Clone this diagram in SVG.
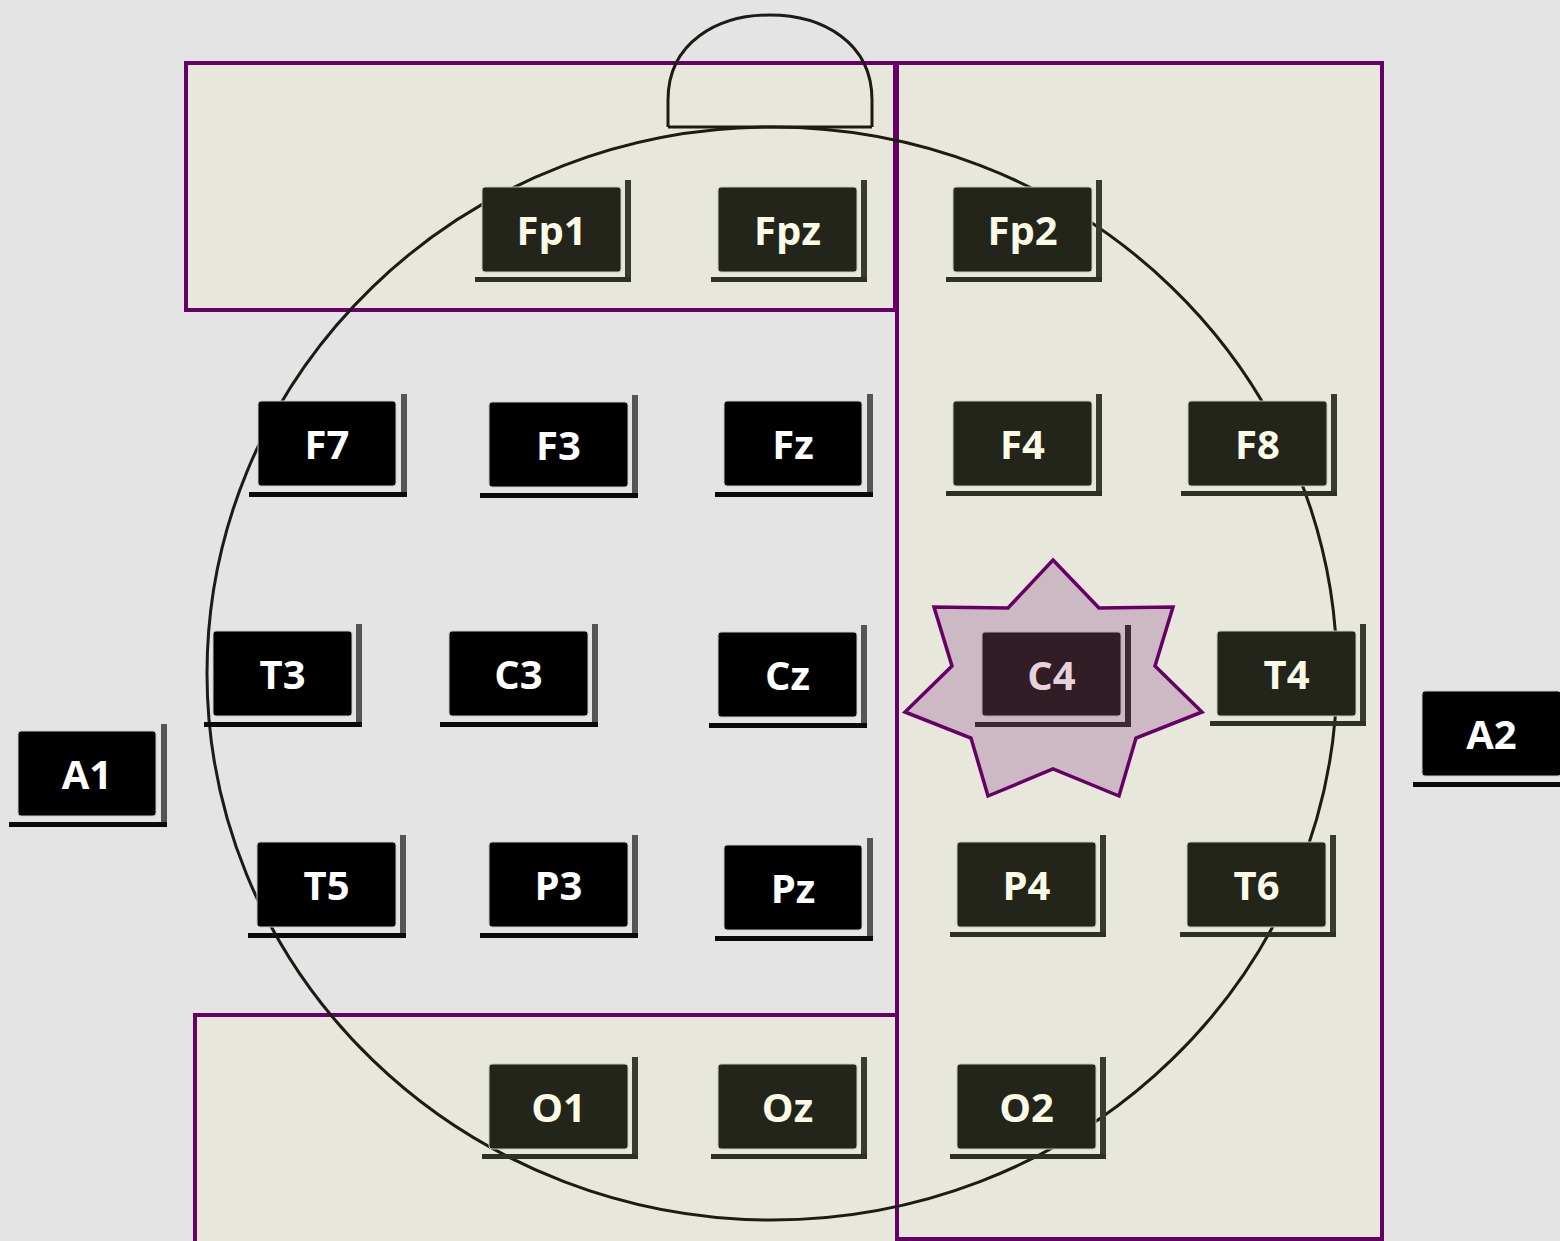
<svg xmlns="http://www.w3.org/2000/svg" width="1560" height="1241" viewBox="0 0 1560 1241">
<style>
.region{fill:#e7e7dc;stroke:#660066;stroke-width:4}
.head{fill:none;stroke:#1c1c14;stroke-width:3}
.box-d{fill:#23241a;stroke:#c9c9bb;stroke-width:1}
.box-k{fill:#000;stroke:#c8c8c8;stroke-width:1}
.box-c{fill:#321c26;stroke:#b9a4ae;stroke-width:1}
.sh-d{fill:#2e2f25}
.sh-dv{fill:#3a3b30}
.sh-k{fill:#0a0a0a}
.sh-kv{fill:#555}
.sh-c{fill:#3e2834}
.lbl{font-family:"Open Sans","Liberation Sans",sans-serif;font-weight:bold;font-size:40px;text-anchor:middle}
.t-d{fill:#fafae6}
.t-k{fill:#fff}
.t-c{fill:#e6d2dc}
</style>
<defs>
<g id="shd-d"><rect class="sh-dv" x="143" y="-7" width="6" height="102"/><rect class="sh-d" x="-7" y="90" width="156" height="5"/></g>
<g id="shd-k"><rect class="sh-kv" x="143" y="-7" width="6" height="102"/><rect class="sh-k" x="-9" y="91" width="158" height="5"/></g>
<g id="shd-c"><rect class="sh-c" x="143" y="-7" width="6" height="102"/><rect class="sh-c" x="-7" y="90" width="156" height="5"/></g>
</defs>
<rect x="0" y="0" width="1560" height="1241" fill="#e4e4e4"/>
<g id="regions">
<rect id="region-frontal" class="region" x="186" y="63" width="709" height="247"/>
<rect id="region-right" class="region" x="897" y="63" width="485" height="1176"/>
<rect id="region-occipital" class="region" x="195" y="1015" width="702" height="240"/>
</g>
<g id="connectors">
<ellipse class="head" cx="772" cy="673.5" rx="565" ry="546.5"/>
<path class="head" d="M668,127 L668,100 C668,42 718,15 770,15 C822,15 872,42 872,100 L872,127"/>
<line class="head" x1="668" y1="127" x2="872" y2="127"/>
</g>
<g id="star-C4">
<polygon points="1053,560 1099,608 1173,607 1155,666 1202,712 1136,738 1119,796 1053,769 988,796 971,738 905,712 952,666 934,607 1008,608" fill="#cdb9c3" stroke="#660066" stroke-width="3.5" stroke-linejoin="miter"/>
</g>
<g id="nodes">
<g id="node-Fp1" transform="translate(482,187)"><use href="#shd-d"/><rect class="box-d" width="139" height="85" rx="3"/><text class="lbl t-d" x="69.5" y="58">Fp1</text></g>
<g id="node-Fpz" transform="translate(718,187)"><use href="#shd-d"/><rect class="box-d" width="139" height="85" rx="3"/><text class="lbl t-d" x="69.5" y="58">Fpz</text></g>
<g id="node-Fp2" transform="translate(953,187)"><use href="#shd-d"/><rect class="box-d" width="139" height="85" rx="3"/><text class="lbl t-d" x="69.5" y="58">Fp2</text></g>
<g id="node-F7" transform="translate(258,401)"><use href="#shd-k"/><rect class="box-k" width="138" height="85" rx="3"/><text class="lbl t-k" x="69" y="58">F7</text></g>
<g id="node-F3" transform="translate(489,402)"><use href="#shd-k"/><rect class="box-k" width="139" height="85" rx="3"/><text class="lbl t-k" x="69.5" y="58">F3</text></g>
<g id="node-Fz" transform="translate(724,401)"><use href="#shd-k"/><rect class="box-k" width="138" height="85" rx="3"/><text class="lbl t-k" x="69" y="58">Fz</text></g>
<g id="node-F4" transform="translate(953,401)"><use href="#shd-d"/><rect class="box-d" width="139" height="85" rx="3"/><text class="lbl t-d" x="69.5" y="58">F4</text></g>
<g id="node-F8" transform="translate(1188,401)"><use href="#shd-d"/><rect class="box-d" width="139" height="85" rx="3"/><text class="lbl t-d" x="69.5" y="58">F8</text></g>
<g id="node-T3" transform="translate(213,631)"><use href="#shd-k"/><rect class="box-k" width="139" height="85" rx="3"/><text class="lbl t-k" x="69.5" y="58">T3</text></g>
<g id="node-C3" transform="translate(449,631)"><use href="#shd-k"/><rect class="box-k" width="139" height="85" rx="3"/><text class="lbl t-k" x="69.5" y="58">C3</text></g>
<g id="node-Cz" transform="translate(718,632)"><use href="#shd-k"/><rect class="box-k" width="139" height="85" rx="3"/><text class="lbl t-k" x="69.5" y="58">Cz</text></g>
<g id="node-C4" transform="translate(982,632)"><use href="#shd-c"/><rect class="box-c" width="139" height="84" rx="3"/><text class="lbl t-c" x="69.5" y="58">C4</text></g>
<g id="node-T4" transform="translate(1217,631)"><use href="#shd-d"/><rect class="box-d" width="139" height="85" rx="3"/><text class="lbl t-d" x="69.5" y="58">T4</text></g>
<g id="node-A1" transform="translate(18,731)"><use href="#shd-k"/><rect class="box-k" width="138" height="85" rx="3"/><text class="lbl t-k" x="69" y="58">A1</text></g>
<g id="node-A2" transform="translate(1422,691)"><use href="#shd-k"/><rect class="box-k" width="139" height="85" rx="3"/><text class="lbl t-k" x="69.5" y="58">A2</text></g>
<g id="node-T5" transform="translate(257,842)"><use href="#shd-k"/><rect class="box-k" width="139" height="85" rx="3"/><text class="lbl t-k" x="69.5" y="58">T5</text></g>
<g id="node-P3" transform="translate(489,842)"><use href="#shd-k"/><rect class="box-k" width="139" height="85" rx="3"/><text class="lbl t-k" x="69.5" y="58">P3</text></g>
<g id="node-Pz" transform="translate(724,845)"><use href="#shd-k"/><rect class="box-k" width="138" height="85" rx="3"/><text class="lbl t-k" x="69" y="58">Pz</text></g>
<g id="node-P4" transform="translate(957,842)"><use href="#shd-d"/><rect class="box-d" width="139" height="85" rx="3"/><text class="lbl t-d" x="69.5" y="58">P4</text></g>
<g id="node-T6" transform="translate(1187,842)"><use href="#shd-d"/><rect class="box-d" width="139" height="85" rx="3"/><text class="lbl t-d" x="69.5" y="58">T6</text></g>
<g id="node-O1" transform="translate(489,1064)"><use href="#shd-d"/><rect class="box-d" width="139" height="85" rx="3"/><text class="lbl t-d" x="69.5" y="58">O1</text></g>
<g id="node-Oz" transform="translate(718,1064)"><use href="#shd-d"/><rect class="box-d" width="139" height="85" rx="3"/><text class="lbl t-d" x="69.5" y="58">Oz</text></g>
<g id="node-O2" transform="translate(957,1064)"><use href="#shd-d"/><rect class="box-d" width="139" height="85" rx="3"/><text class="lbl t-d" x="69.5" y="58">O2</text></g>
</g>
</svg>
